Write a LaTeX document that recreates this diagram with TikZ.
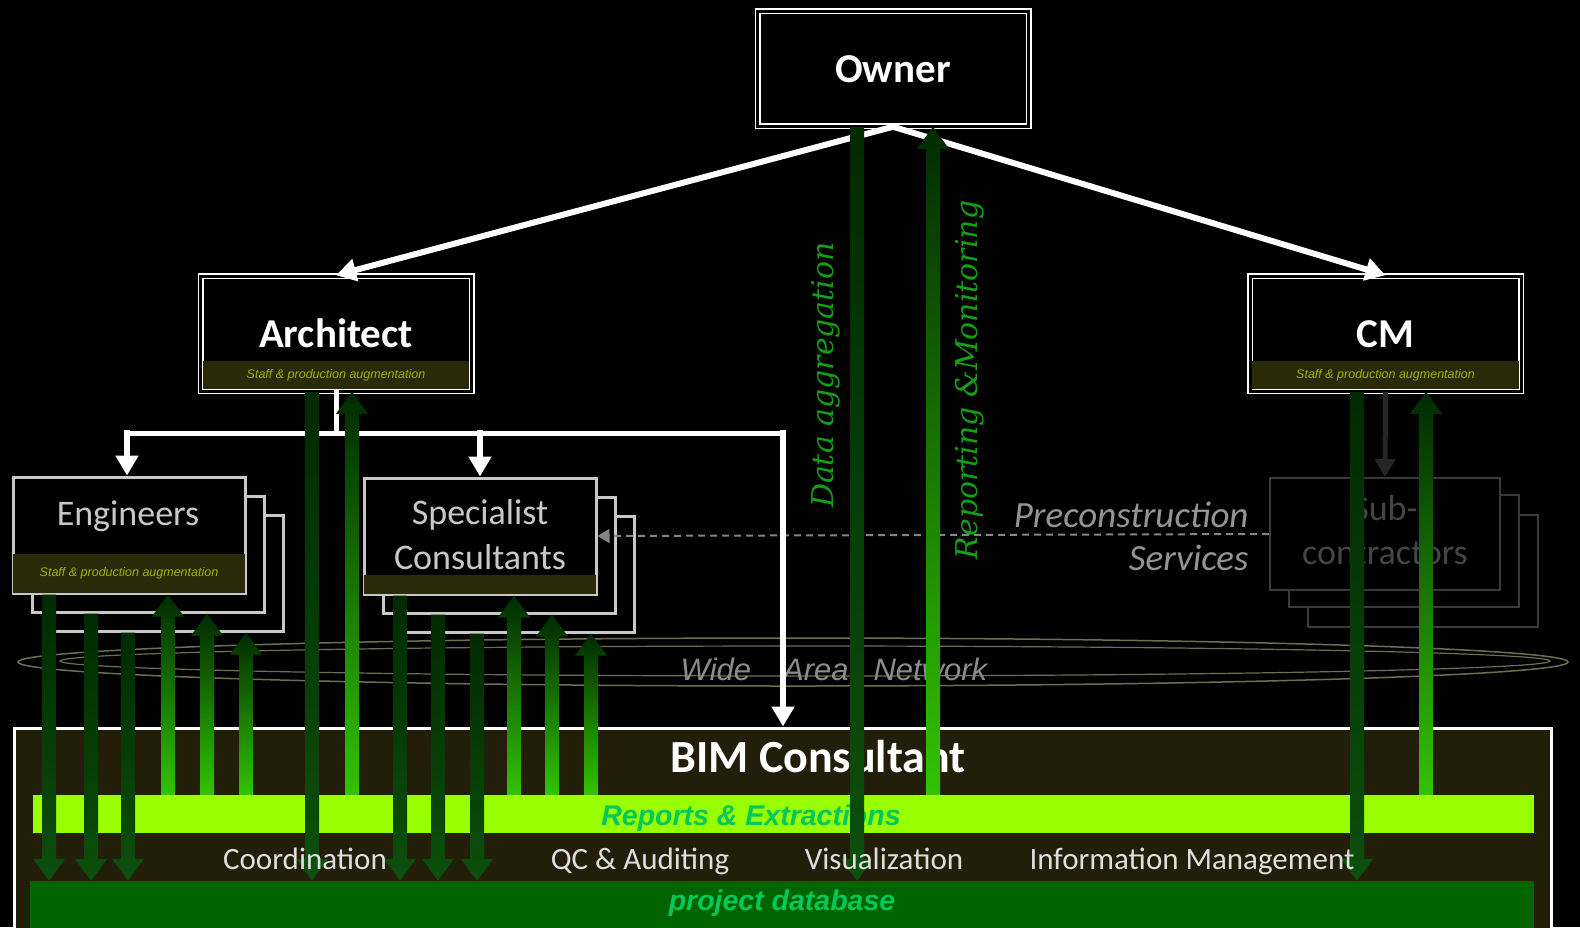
\documentclass[tikz,border=0pt]{standalone}
\usepackage{fontspec}
\setmainfont{Carlito}
\newfontfamily\arialfont{Liberation Sans}
\newfontfamily\dvserif{DejaVu Serif}
\usepackage{tikz}
\usetikzlibrary{arrows.meta}
\usetikzlibrary{calc}
\definecolor{stripol}{RGB}{42,42,8}
\definecolor{bimfill}{RGB}{34,30,10}
\definecolor{repline}{RGB}{153,255,0}
\definecolor{dbgreen}{RGB}{0,100,0}
\definecolor{txgreen}{RGB}{0,200,90}
\definecolor{staffyel}{RGB}{160,180,0}
\definecolor{lblgreen}{RGB}{20,160,20}
\definecolor{wanline}{RGB}{110,110,80}
\definecolor{stackgray}{RGB}{200,200,200}
\definecolor{subgray}{RGB}{58,58,58}
\definecolor{darkbar}{RGB}{0,42,0}
\definecolor{midbar}{RGB}{12,80,12}
\definecolor{brightbar}{RGB}{50,195,0}
\tikzstyle{dbox}=[draw=white,double=black,line width=1.5pt,double distance=3pt,fill=black,minimum width=271pt,minimum height=115pt,inner sep=0pt,text=white,text height=28pt,text depth=0pt,font=\fontsize{41}{44}\selectfont\bfseries]
\tikzstyle{sbox}=[draw=stackgray,line width=3pt,fill=black,minimum width=232pt,minimum height=116pt,inner sep=0pt]
\tikzstyle{subbox}=[draw=subgray,line width=2pt,fill=black,minimum width=230pt,minimum height=112pt,inner sep=0pt]
\tikzstyle{team}=[text=stackgray,align=center,anchor=base,font=\fontsize{36}{45}\selectfont]
\tikzstyle{staff}=[text=staffyel,font=\arialfont\itshape\fontsize{12.5}{13}\selectfont]
\tikzstyle{wire}=[draw=white,line width=6pt,line cap=rect,-{Triangle[length=20pt,width=22pt]}]
\tikzstyle{bus}=[draw=white,line width=5pt,line cap=rect]
\tikzstyle{task}=[text=white!87!black,anchor=base,font=\fontsize{31}{34}\selectfont]
\tikzstyle{band}=[text=txgreen,anchor=base,font=\arialfont\bfseries\itshape\fontsize{28.5}{30}\selectfont]
\tikzstyle{flow}=[text=lblgreen,rotate=90,font=\dvserif\itshape\fontsize{30}{32}\selectfont]
\tikzstyle{pre}=[text=white!58!black,font=\itshape\fontsize{37}{40}\selectfont,anchor=base east]
% thick green arrows, #1 = x, #2 = start, #3 = tip
\newcommand\bardown[3]{\shade[top color=darkbar,bottom color=midbar] let \p1=#2,\p2=#3 in
	({#1pt-7pt},\y1) -- ({#1pt-7pt},\y2+22pt) -- ({#1pt-16pt},\y2+22pt) -- ({#1pt},\y2)
	-- ({#1pt+16pt},\y2+22pt) -- ({#1pt+7pt},\y2+22pt) -- ({#1pt+7pt},\y1) -- cycle;}
\newcommand\barup[3]{\shade[bottom color=brightbar,top color=darkbar] let \p1=#2,\p2=#3 in
	({#1pt-7pt},\y1) -- ({#1pt-7pt},\y2-22pt) -- ({#1pt-16pt},\y2-22pt) -- ({#1pt},\y2)
	-- ({#1pt+16pt},\y2-22pt) -- ({#1pt+7pt},\y2-22pt) -- ({#1pt+7pt},\y1) -- cycle;}
\begin{document}
\begin{tikzpicture}[x=1pt,y=-1pt]
	\fill[black] (0,0) rectangle (1580,927);
	\useasboundingbox (0,0) rectangle (1580,927);
	% wide area network
	\draw[wanline,line width=1.5pt] (793,662) ellipse [x radius=775,y radius=24];
	\draw[wanline,line width=1.2pt] (805,661) ellipse [x radius=745,y radius=15];
	\node[text=white!55!black,anchor=base,font=\arialfont\itshape\fontsize{31}{32}\selectfont] (wan) at (834,680) {Wide\hspace{32pt}Area\hspace{25pt}Network};
	% organisation boxes
	\node[dbox] (owner) at (893,68.5) {Owner};
	\node[dbox] (arch) at (336,333.5) {Architect};
	\node[dbox] (cm) at (1385.5,333.5) {CM};
	\node[sbox] (eng3) at (167,573) {};
	\node[sbox] (eng2) at (148,554) {};
	\node[sbox] (eng) at (129,535) {};
	\node[sbox] (spec3) at (518,574) {};
	\node[sbox] (spec2) at (499,555) {};
	\node[sbox] (spec) at (480,536) {};
	\node[subbox] (sub3) at (1423,571) {};
	\node[subbox] (sub2) at (1404,551) {};
	\node[subbox] (sub) at (1385,534) {};
	\fill[stripol] ([xshift=3pt,yshift=3pt]arch.south west) rectangle ([xshift=-3pt,yshift=31pt]arch.south east);
	\fill[stripol] ([xshift=3pt,yshift=3pt]cm.south west) rectangle ([xshift=-3pt,yshift=31pt]cm.south east);
	\fill[stripol] ([xshift=1.5pt,yshift=1.5pt]eng.south west) rectangle ([xshift=-1.5pt,yshift=40.5pt]eng.south east);
	\fill[stripol] ([xshift=1.5pt,yshift=1.5pt]spec.south west) rectangle ([xshift=-1.5pt,yshift=20.5pt]spec.south east);
	\node[staff] at ([yshift=16pt]arch.south) {Staff \& production augmentation};
	\node[staff] at ([yshift=16pt]cm.south) {Staff \& production augmentation};
	\node[staff] at ([yshift=21pt]eng.south) {Staff \& production augmentation};
	\node[team] (engtxt) at (128,525) {Engineers};
	\node[team] (spectxt) at (480,569) {Specialist\\Consultants};
	\node[team,text=white!27!black,font=\fontsize{36}{44}\selectfont] (subtxt) at (1385,564) {Sub-\\contractors};
	% reporting lines
	\draw[wire] (owner.south) -- (arch.north);
	\draw[wire] (owner.south) -- (cm.north);
	\coordinate (busl) at (127,433);
	\coordinate (busr) at (783,433);
	\draw[bus] (arch.south) -- (arch.south |- busl);
	\draw[bus] (busl) -- (busr);
	\draw[wire] (busl) -- (busl |- eng.north);
	\draw[wire] (spec.north |- busl) -- (spec.north);
	\draw[draw=subgray!110,line width=5pt,-{Triangle[length=18pt,width=20pt]}] (cm.south) -- (sub.north);
	\draw[draw=white!52!black,line width=2pt,dash pattern=on 7pt off 5pt,-{Triangle[length=12pt,width=14pt]}] (sub.west) -- (spec.east);
	\node[pre] (pre1) at (1252,527) {Preconstruction};
	\node[pre] (pre2) at (1252,570) {Services};
	% BIM consultant
	\node[draw=white,line width=3pt,fill=bimfill,minimum width=1537pt,minimum height=206pt,inner sep=0pt] (bim) at (782.5,831) {};
	\draw[wire] (busr) -- (busr |- bim.north);
	\node[fill=repline,minimum width=1501pt,minimum height=38pt,inner sep=0pt] (rep) at (783.5,814) {};
	\node[fill=dbgreen,minimum width=1504pt,minimum height=48pt,inner sep=0pt] (db) at (782,905) {};
	\node[text=white,anchor=base,font=\fontsize{46}{48}\selectfont\bfseries] (bimtxt) at (818,772) {BIM Consultant};
	\node[band] (reptxt) at (751,825) {Reports \& Extractions};
	\node[band] (dbtxt) at (782,910) {project database};
	% data flows
	\foreach \xp/\bx in {49/eng,91/eng2,128/eng3,312/arch,400/spec,438/spec2,477/spec3,857/owner,1357/cm}
		\bardown{\xp}{(\bx.south)}{(db.north)};
	\foreach \xp/\bx in {168/eng,207/eng2,246/eng3,352/arch,514/spec,552/spec2,591/spec3,933/owner,1426/cm}
		\barup{\xp}{(rep.north)}{(\bx.south)};
	\node[flow] (agg) at (826,375) {Data aggregation};
	\node[flow] (mon) at (970,380) {Reporting \&Monitoring};
	\node[task] (coord) at (305,869) {Coordination};
	\node[task] (qc) at (640,869) {QC \& Auditing};
	\node[task] (vis) at (884,869) {Visualization};
	\node[task] (info) at (1192,869) {Information Management};
\end{tikzpicture}
\end{document}
